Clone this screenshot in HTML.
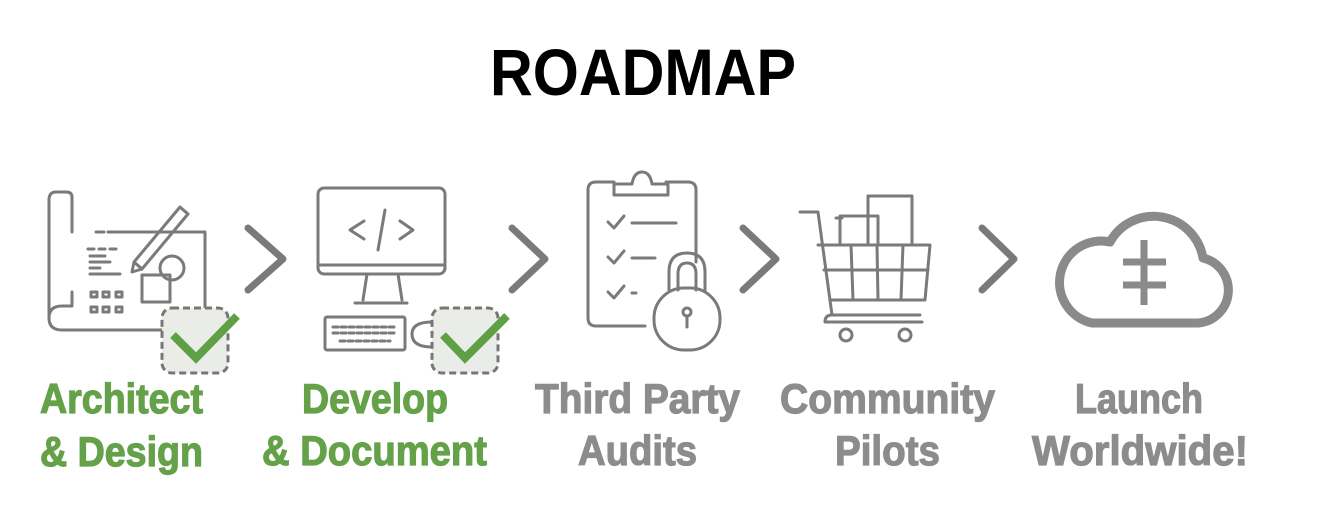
<!DOCTYPE html>
<html><head><meta charset="utf-8"><style>
html,body{margin:0;padding:0;background:#fff;}
svg{display:block}
</style></head><body>
<svg width="1324" height="510" viewBox="0 0 1324 510" xmlns="http://www.w3.org/2000/svg">
<text x="643" y="95" text-anchor="middle" font-family="Liberation Sans, sans-serif" font-weight="bold" font-size="66" fill="#000" textLength="306" lengthAdjust="spacingAndGlyphs">ROADMAP</text>

<g fill="none" stroke="#7a7a7a" stroke-width="3" stroke-linecap="round" stroke-linejoin="round">
 <!-- blueprint -->
 <path d="M72,232 V197 Q72,192 66,192 H56 Q49,192 49,200 V318 Q49,330 62,330 H205 V232 H108"/>
 <path d="M49,318 Q49,306 62,306 H72 V292"/>
 <path d="M104,232 H96"/>
 <path d="M88,249 H94 M99,249 H105 M110,249 H116"/>
 <path d="M90,256 H105 M90,262 H110 M90,268 H100 M90,274 H120"/>
 <circle cx="172" cy="268" r="12"/>
 <rect x="142" y="275" width="28" height="27"/>
 <path d="M134,262 L180,207 L188,214 L142,269 Z M134,262 L132,272 L142,269"/>
 <g stroke-width="3"><rect x="91" y="292" width="6" height="5"/><rect x="103" y="292" width="6" height="5"/><rect x="116" y="292" width="6" height="5"/><rect x="91" y="307" width="6" height="5"/><rect x="103" y="307" width="6" height="5"/><rect x="116" y="307" width="6" height="5"/></g>
 <!-- monitor -->
 <rect x="318" y="188" width="127" height="86" rx="6"/>
 <path d="M318,265 H445"/>
 <path d="M364,221 L350,230 L364,239"/>
 <path d="M385,210 L378,250"/>
 <path d="M400,221 L413,230 L400,239"/>
 <path d="M367,274 L363,300 M398,274 L402,300 M355,303 H407"/>
 <rect x="325" y="317" width="80" height="33" rx="2"/>
 <path d="M333,327 H397 M333,333 H397 M340,341 H390" stroke-dasharray="5,3"/>
 <path d="M432,322 Q412,322 412,334 Q412,347 432,347"/>
 <!-- chevrons -->
 <g stroke-width="7"><path d="M248,228 L283,259 L248,290"/><path d="M512,228 L545,259 L512,290"/><path d="M743,228 L776,259 L743,290"/><path d="M982,228 L1014,259 L982,290"/></g>
 <!-- clipboard -->
 <path d="M614,182 H596 Q588,182 588,190 V318 Q588,326 596,326 H645"/>
 <path d="M666,182 H688 Q696,182 696,190 V262"/>
 <path d="M614,195 V184 H632 Q634,172 642,172 Q650,172 652,184 H668 V195 Z"/>
 <path d="M608,222 L614,228 L624,216 M632,223 H676"/>
 <path d="M608,257 L614,263 L624,251 M632,258 H655"/>
 <path d="M608,292 L614,298 L624,286 M632,293 H636"/>
 <!-- lock -->
 <path d="M669,290 V272 Q669,253 687,253 Q705,253 705,272 V290"/>
 <path d="M678,290 V274 Q678,263 687,263 Q696,263 696,274 V290"/>
 <rect x="654" y="288" width="66" height="62" rx="30"/>
 <circle cx="687" cy="312" r="4"/><path d="M687,316 V327"/>
 <!-- cart -->
 <path d="M800,212 H818 L832,315 H920"/>
 <path d="M818,245 H930 L925,300 H830"/>
 <path d="M824,270 H928 M851,245 L853,300 M877,245 L878,300 M903,245 L901,300"/>
 <path d="M832,315 Q825,315 825,322 H922"/>
 <circle cx="846" cy="335" r="6"/><circle cx="905" cy="335" r="6"/>
 <path d="M840,245 V216 H878 V245 M868,245 V196 H912 V245 M836,218 H842"/>
 <!-- cloud -->
 <path d="M1092,323 H1198 A33,33 0 0 0 1203,258 A50,50 0 0 0 1110,242 A41,41 0 0 0 1092,323 Z" stroke="#8a8a8a" stroke-width="9"/>
 <path d="M1144,240 V305 M1123,262 H1166 M1123,285 H1166" stroke="#8a8a8a" stroke-width="7" stroke-linecap="butt"/>
</g>

<!-- check boxes -->
<g>
 <rect x="162" y="308" width="66" height="65" rx="10" fill="#e9ece7" stroke="#777" stroke-width="3" stroke-dasharray="7,4"/>
 <path d="M173,335 L196,358 L237,316" fill="none" stroke="#5f9f45" stroke-width="8"/>
 <rect x="432" y="308" width="66" height="65" rx="10" fill="#e9ece7" stroke="#777" stroke-width="3" stroke-dasharray="7,4"/>
 <path d="M443,335 L465,358 L507,316" fill="none" stroke="#5f9f45" stroke-width="8"/>
</g>

<g font-family="Liberation Sans Narrow, Liberation Sans, sans-serif" font-weight="bold" font-size="42" stroke-width="1.2">
 <g fill="#64a148" stroke="#64a148">
  <text x="40" y="413" textLength="163" lengthAdjust="spacingAndGlyphs">Architect</text>
  <text x="40" y="466" textLength="163" lengthAdjust="spacingAndGlyphs">&amp; Design</text>
  <text x="302" y="413" textLength="146" lengthAdjust="spacingAndGlyphs">Develop</text>
  <text x="262" y="465" textLength="225" lengthAdjust="spacingAndGlyphs">&amp; Document</text>
 </g>
 <g fill="#8c8c8c" stroke="#8c8c8c">
  <text x="535" y="413" textLength="205" lengthAdjust="spacingAndGlyphs">Third Party</text>
  <text x="578" y="465" textLength="119" lengthAdjust="spacingAndGlyphs">Audits</text>
  <text x="780" y="413" textLength="215" lengthAdjust="spacingAndGlyphs">Community</text>
  <text x="835" y="465" textLength="105" lengthAdjust="spacingAndGlyphs">Pilots</text>
  <text x="1075" y="413" textLength="128" lengthAdjust="spacingAndGlyphs">Launch</text>
  <text x="1032" y="465" textLength="216" lengthAdjust="spacingAndGlyphs">Worldwide!</text>
 </g>
</g>
</svg>
</body></html>
